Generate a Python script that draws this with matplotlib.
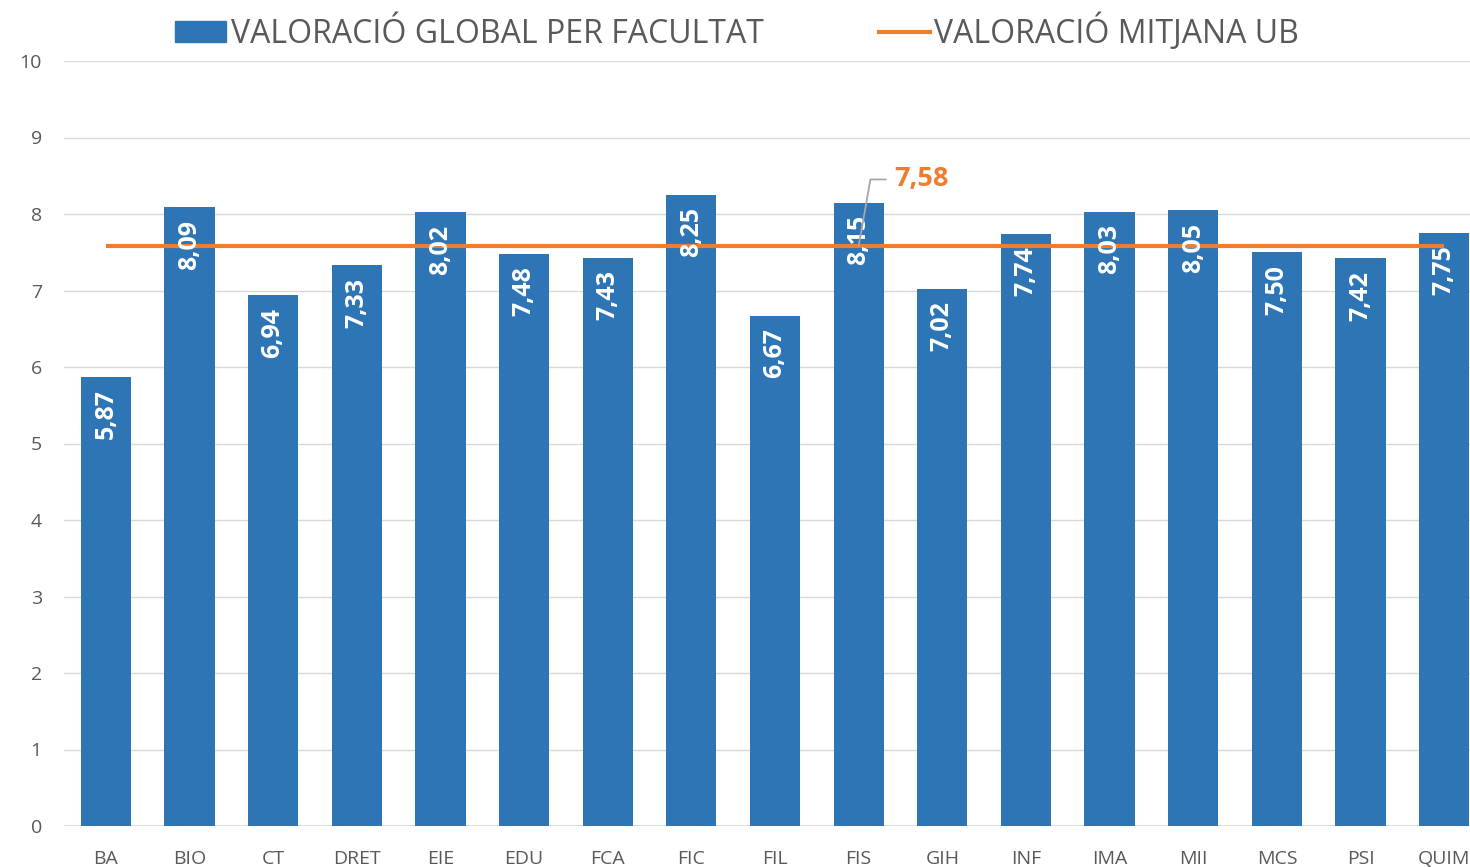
import matplotlib
matplotlib.use('Agg')
import matplotlib.pyplot as plt
from matplotlib.lines import Line2D
from matplotlib.patches import Patch

facultats = ['BA', 'BIO', 'CT', 'DRET', 'EIE', 'EDU', 'FCA', 'FIC', 'FIL', 'FIS',
             'GIH', 'INF', 'IMA', 'MII', 'MCS', 'PSI', 'QUIM']
valoracio = [5.87, 8.09, 6.94, 7.33, 8.02, 7.48, 7.43, 8.25, 6.67, 8.15,
             7.02, 7.74, 8.03, 8.05, 7.50, 7.42, 7.75]
mitjana_ub = 7.58

blue = '#2E75B6'
orange = '#ED7D31'
grey_txt = '#595959'

plt.rcParams['font.family'] = ['Open Sans', 'DejaVu Sans']

fig = plt.figure(figsize=(14.7, 8.67), dpi=100)
ax = fig.add_axes([64/1470, 41/867, 1422/1470, 765/867])

x = list(range(len(facultats)))
ax.bar(x, valoracio, width=0.6, color=blue, zorder=2)
ax.plot([x[0], x[-1]], [mitjana_ub]*2, color=orange, lw=3, zorder=3,
        solid_capstyle='butt')

for xi, v in zip(x, valoracio):
    ax.annotate(('%.2f' % v).replace('.', ','), (xi, v), xytext=(0, -9),
                textcoords='offset points', rotation=90, ha='center', va='top',
                color='white', fontsize=18, fontweight='bold', zorder=4)

# etiqueta de la mitjana
ax.annotate(('%.2f' % mitjana_ub).replace('.', ','), (9, mitjana_ub),
            xytext=(25.5, 48), textcoords='offset points', ha='left', va='center',
            color=orange, fontsize=19.5, fontweight='bold', zorder=5,
            arrowprops=dict(arrowstyle='-', color='#A6A6A6', lw=1.3,
                            connectionstyle='angle,angleA=0,angleB=80,rad=0',
                            shrinkA=4, shrinkB=0))

ax.set_xlim(-0.5, len(facultats) - 0.5)
ax.set_ylim(0, 10)
ax.set_yticks(range(0, 11))
ax.set_xticks(x)
ax.set_xticklabels(facultats)
ax.tick_params(axis='both', length=0, labelsize=14, labelcolor=grey_txt)
ax.tick_params(axis='x', pad=17)
ax.tick_params(axis='y', pad=16)
ax.grid(axis='y', color='#D9D9D9', lw=1, zorder=0)
for s in ax.spines.values():
    s.set_visible(False)
ax.axhline(0, color='#D9D9D9', lw=1.2, zorder=1)

handles = [Patch(color=blue, label='VALORACIÓ GLOBAL PER FACULTAT'),
           Line2D([0], [0], color=orange, lw=3, label='VALORACIÓ MITJANA UB')]
fig.legend(handles=handles, loc='center', bbox_to_anchor=(737/1470, 1 - 32/867),
           ncol=2, frameon=False, fontsize=23, labelcolor=grey_txt,
           handlelength=1.6, handletextpad=0.15, columnspacing=3.6,
           handleheight=0.65)

fig.savefig('out.png', dpi=100)
